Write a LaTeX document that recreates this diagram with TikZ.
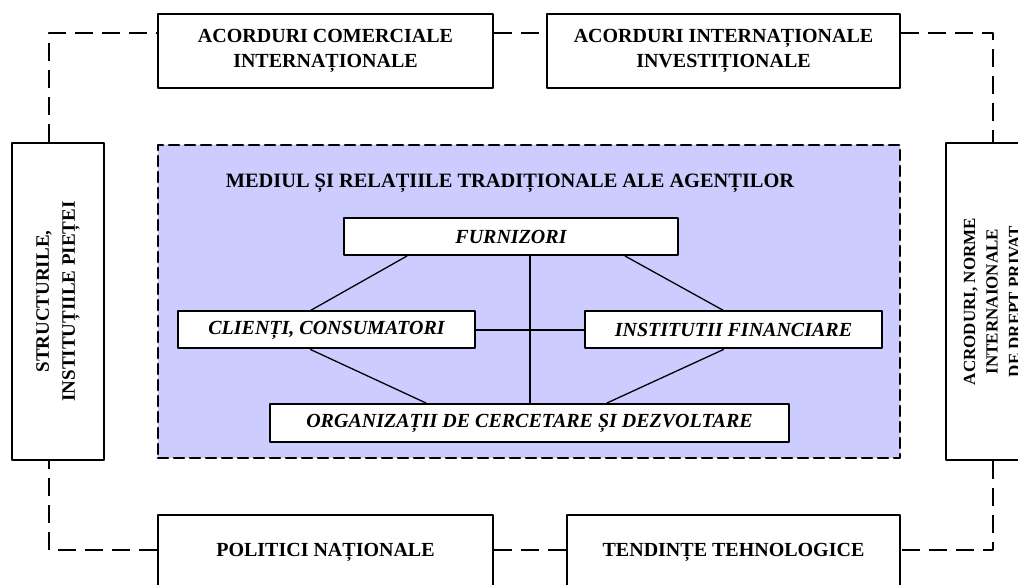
\documentclass[tikz,border=0pt]{standalone}
\usepackage{fontspec}
\setmainfont{Liberation Serif}
\definecolor{lila}{RGB}{204,204,255}
\begin{document}
\begin{tikzpicture}[x=1pt, y=-1pt, line join=round, line cap=round]
	\tikzset{every node/.style={font=\bfseries\fontsize{20}{25}\selectfont, align=center, inner sep=0pt},
		outbox/.style={draw, line width=2.8pt, fill=white, minimum width=335pt, minimum height=74pt},
		sidebox/.style={draw, line width=2.8pt, fill=white, rotate=90, minimum width=317pt, minimum height=92pt},
		agent/.style={draw, line width=2pt, fill=white, minimum height=37pt, font=\bfseries\itshape\fontsize{20}{25}\selectfont},
		link/.style={line width=1.3pt}, cross/.style={line width=2pt},
		frame/.style={line width=2pt, line cap=butt, dash pattern=on 18pt off 9pt}}
	\useasboundingbox (0,0) rectangle (1018,585);
	\clip (0,0) rectangle (1018,585);
	% mediul agentilor
	\node[draw, fill=lila, line width=2.8pt, dash pattern=on 10pt off 6pt, minimum width=742pt, minimum height=313pt] (mediu) at (529,301.5) {};
	\node[font=\bfseries\fontsize{20.4}{25}\selectfont] (titlu) at (510,183) {MEDIUL ȘI RELAȚIILE TRADIȚIONALE ALE AGENȚILOR};
	\node[agent, minimum width=334pt] (furn) at (511,236.5) {FURNIZORI};
	\node[agent, minimum width=297pt] (cli) at (326.5,330) {CLIENȚI, CONSUMATORI};
	\node[agent, minimum width=297pt] (inst) at (733.5,330) {INSTITUTII FINANCIARE};
	\node[agent, minimum width=519pt, minimum height=38pt] (org) at (529.5,423) {ORGANIZAȚII DE CERCETARE ȘI DEZVOLTARE};
	\coordinate (ax) at (530,330);
	\draw[cross] (furn.south -| ax) -- (org.north -| ax);
	\draw[cross] (cli.east) -- (inst.west);
	\draw[link] ([xshift=-104pt]furn.south) -- ([xshift=-16pt]cli.north);
	\draw[link] ([xshift=114pt]furn.south) -- ([xshift=-10pt]inst.north);
	\draw[link] ([xshift=-16pt]cli.south) -- ([xshift=-103.5pt]org.north);
	\draw[link] ([xshift=-10pt]inst.south) -- ([xshift=77.5pt]org.north);
	% factorii din jur
	\node[outbox] (acom) at (325.5,51) {ACORDURI COMERCIALE\\INTERNAȚIONALE};
	\node[outbox, minimum width=353pt] (ainv) at (723.5,51) {ACORDURI INTERNAȚIONALE\\INVESTIȚIONALE};
	\node[sidebox, font=\bfseries\fontsize{19}{26}\selectfont] (struct) at (58,301.5) {STRUCTURILE,\\INSTITUȚIILE PIEȚEI};
	\node[sidebox, font=\bfseries\fontsize{17}{22.5}\selectfont] (norme) at (992,301.5) {ACRODURI, NORME\\INTERNAIONALE\\DE DREPT PRIVAT};
	\node[outbox] (pol) at (325.5,552) {POLITICI NAȚIONALE};
	\node[outbox, minimum width=333pt] (tend) at (733.5,552) {TENDINȚE TEHNOLOGICE};
	% cadrul punctat
	\coordinate (c1) at (49,33); \coordinate (c2) at (993,33);
	\coordinate (c3) at (993,550); \coordinate (c4) at (49,550);
	\draw[frame] (c1 |- struct.east) -- (c1) -- (acom.west |- c1);
	\draw[frame] (acom.east |- c1) -- (ainv.west |- c1);
	\draw[frame] (ainv.east |- c1) -- (c2) -- (c2 |- norme.east);
	\draw[frame] (c3 |- norme.west) -- (c3) -- (tend.east |- c3);
	\draw[frame] (tend.west |- c3) -- (pol.east |- c3);
	\draw[frame] (pol.west |- c4) -- (c4) -- (c4 |- struct.west);
\end{tikzpicture}
\end{document}
